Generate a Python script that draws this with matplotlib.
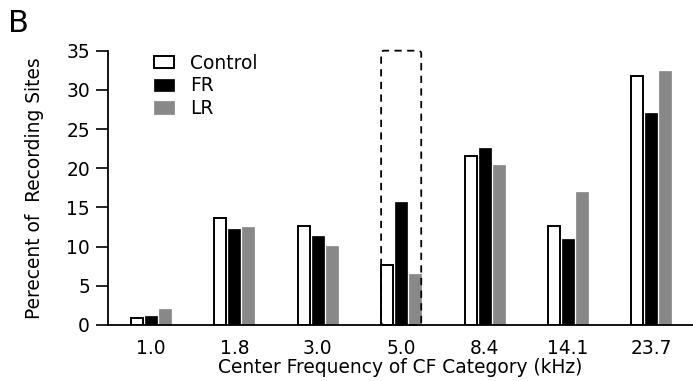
import numpy as np
import matplotlib
matplotlib.use("Agg")
import matplotlib.pyplot as plt
from matplotlib.patches import FancyBboxPatch

# CF categories (kHz) and percent of recording sites per group
categories = ["1.0", "1.8", "3.0", "5.0", "8.4", "14.1", "23.7"]
control = [0.9, 13.7, 12.6, 7.6, 21.6, 12.6, 31.8]
fr = [1.2, 12.3, 11.3, 15.7, 22.6, 11.0, 27.0]
lr = [2.0, 12.5, 10.1, 6.5, 20.4, 17.0, 32.4]
highlight = "5.0"

plt.rcParams['font.family'] = ['DejaVu Sans']
fs = 13.4

fig = plt.figure(figsize=(6.93, 3.81), dpi=100)
ax = fig.add_axes([0.156, 0.147, 0.844, 0.72])

x = np.arange(len(categories))
w = 0.145
step = 0.168
ax.bar(x - step, control, w, color="white", edgecolor="black", linewidth=1.4, label="Control")
ax.bar(x, fr, w, color="black", edgecolor="black", linewidth=0.5, label="FR")
ax.bar(x + step, lr, w, color="#888888", edgecolor="#888888", linewidth=0.5, label="LR")

ax.set_ylim(0, 35)
ax.set_xlim(-0.515, 6.5)

# dashed box round the highlighted group
hx = categories.index(highlight)
half = step + w / 2
box = FancyBboxPatch((hx - half, 0), 2 * half, 35,
                     boxstyle="round,pad=0,rounding_size=0.035",
                     mutation_aspect=10.7,
                     fill=False, linestyle=(0, (4, 3)), linewidth=1.3,
                     edgecolor="black", clip_on=False, zorder=3)
ax.add_patch(box)

ax.set_xticks(x)
ax.set_xticklabels(categories, fontsize=fs)
ax.tick_params(axis="x", length=0, pad=10)
ax.set_yticks(np.arange(0, 36, 5))
ax.tick_params(axis="y", labelsize=fs, length=9, width=1.2, pad=4)
for s in ["top", "right"]:
    ax.spines[s].set_visible(False)
ax.spines["left"].set_linewidth(1.3)
ax.spines["bottom"].set_linewidth(1.3)

ax.set_xlabel("Center Frequency of CF Category (kHz)", fontsize=fs, labelpad=0)
ax.set_ylabel("Perecent of  Recording Sites", fontsize=fs, labelpad=16)

ax.legend(loc="upper left", bbox_to_anchor=(0.05, 1.05), frameon=False,
          fontsize=fs, handlelength=1.05, handleheight=0.65,
          handletextpad=0.9, labelspacing=0.2)

fig.text(0.012, 0.915, "B", fontsize=22)

plt.savefig("out.png", dpi=100)
